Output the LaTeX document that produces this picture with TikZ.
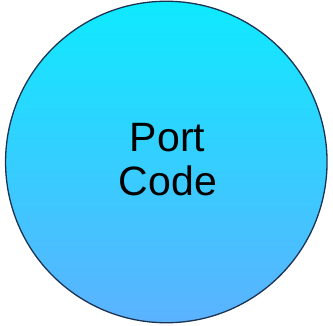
\documentclass[tikz,border=0pt]{standalone}
\usepackage{fontspec}
\setmainfont{Liberation Sans}
\definecolor{disctop}{RGB}{14,234,255}
\definecolor{discmid}{RGB}{62,214,255}
\definecolor{discbottom}{RGB}{92,178,255}
\definecolor{discline}{RGB}{28,52,82}
\begin{document}
\begin{tikzpicture}[x=1pt,y=1pt,
  disc/.style={circle, draw=discline, line width=1.3pt, minimum size=321.5pt,
    inner sep=0pt, top color=disctop, middle color=discmid, bottom color=discbottom},
  label/.style={font=\fontsize{41}{45}\selectfont, anchor=base, inner sep=0pt}]
  \useasboundingbox (0,0) rectangle (333,325);
  \node[disc] (port) at (166.3,163) {};
  \node[label] (portword) at (167.5,174) {Port};
  \node[label] (codeword) at (168,129) {Code};
\end{tikzpicture}
\end{document}
